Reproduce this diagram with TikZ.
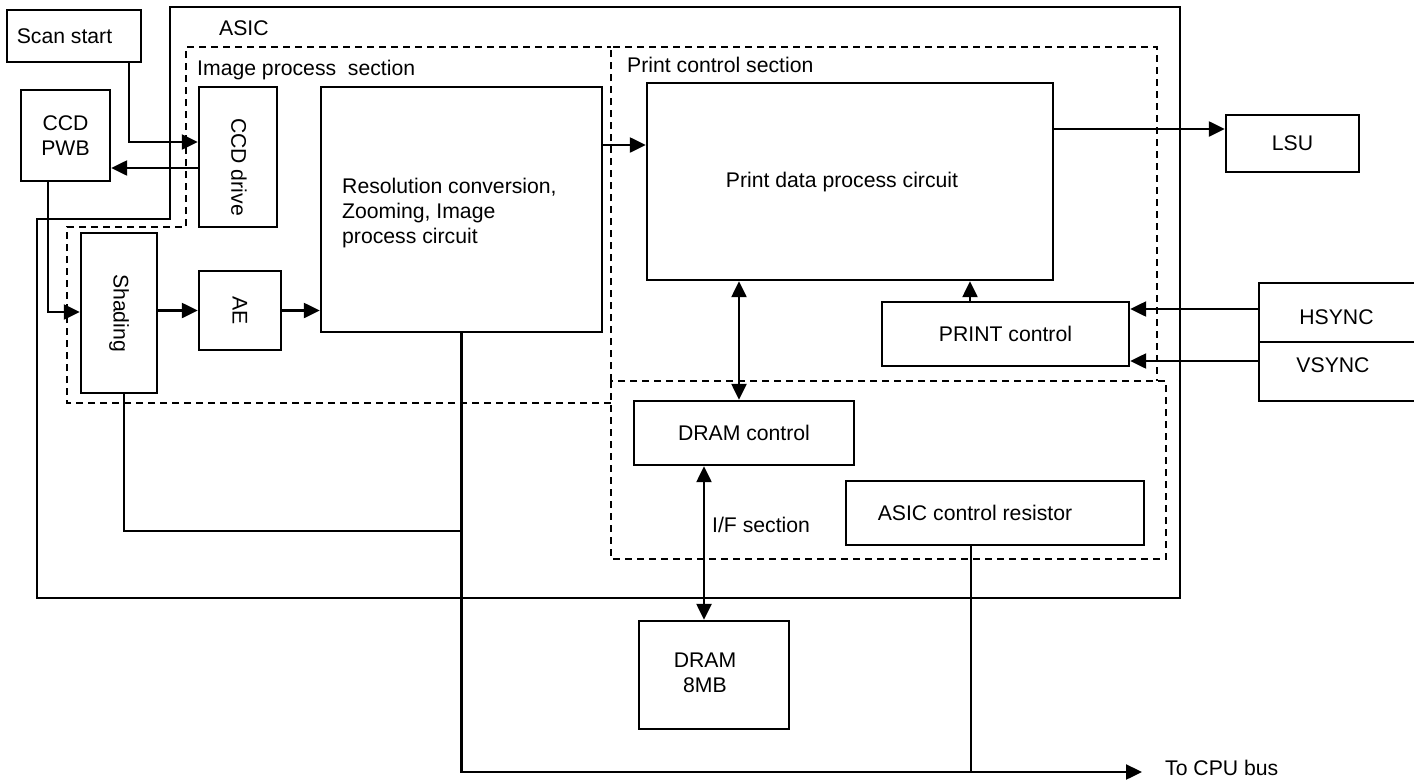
\documentclass[tikz,border=0pt]{standalone}
\usepackage{fontspec}
\setmainfont{Liberation Sans}
\usetikzlibrary{arrows.meta}
\tikzset{
  bx/.style={draw, line width=2.4pt, inner sep=0pt, align=center},
  sec/.style={draw, line width=2.4pt, dash pattern=on 7pt off 5pt},
  wire/.style={line width=2.4pt},
  arr/.style={line width=2.4pt, -{Triangle[length=16pt,width=15pt]}},
  darr/.style={line width=2.4pt, {Triangle[length=16pt,width=15pt]}-{Triangle[length=16pt,width=15pt]}},
  txt/.style={inner sep=0pt, anchor=base west},
}
\begin{document}
\begin{tikzpicture}[x=1pt,y=-1pt,font=\fontsize{21.2}{25}\selectfont]
\useasboundingbox (0,0) rectangle (1414,782);
\clip (0,0) rectangle (1414,782);
% ASIC outline
\draw[wire] (170,7) -- (1180,7) -- (1180,598) -- (37,598) -- (37,219) -- (170,219) -- cycle;
% sections
\draw[sec] (611,403) -- (67,403) -- (67,227) -- (186,227) -- (186,47) -- (611,47);
\draw[sec] (611,381) -- (611,47) -- (1157,47) -- (1157,381);
\draw[sec] (611,381) rectangle (1166,559);
% labels
\node[txt] (lasic) at (219,35) {ASIC};
\node[txt] (limg) at (197,75) {Image process\ \ section};
\node[txt] (lprint) at (627,72) {Print control section};
\node[txt] (lif) at (712,532) {I/F section};
\node[txt] (lcpu) at (1165,775) {To CPU bus};
% boxes
\node[bx, minimum width=134pt, minimum height=52pt, label={[xshift=-9.5pt]center:Scan start}] (scan) at (74,36) {};
\node[bx, minimum width=89pt, minimum height=91pt] (ccdpwb) at (65.5,135.5) {CCD\\PWB};
\node[bx, minimum width=78pt, minimum height=140pt, label={[yshift=-10pt,xshift=1pt]center:\rotatebox{-90}{CCD drive}}] (ccd) at (238,157) {};
\node[bx, minimum width=76pt, minimum height=160pt] (shading) at (119,313) {\rotatebox{-90}{Shading}};
\node[bx, minimum width=82pt, minimum height=79pt] (ae) at (240,310.5) {\rotatebox{-90}{AE}};
\node[bx, minimum width=281pt, minimum height=245pt] (res) at (461.5,209.5) {};
\node[inner sep=0pt, anchor=west, align=left] (restxt) at (342,213) {Resolution conversion,\\Zooming, Image\\process circuit};
\node[bx, minimum width=406pt, minimum height=197pt, label={[xshift=-8pt,yshift=-1pt]center:Print data process circuit}] (pdp) at (850,181.5) {};
\node[bx, minimum width=133pt, minimum height=57pt] (lsu) at (1292.5,143.5) {LSU};
\node[bx, minimum width=247pt, minimum height=64pt] (prc) at (1005.5,334) {PRINT control};
\node[bx, minimum width=161pt, minimum height=59pt, label={[xshift=-3pt,yshift=-4.5pt]center:HSYNC}] (hsync) at (1339.5,312.5) {};
\node[bx, minimum width=161pt, minimum height=59pt, label={[xshift=-6.5pt,yshift=6.5pt]center:VSYNC}] (vsync) at (1339.5,371.5) {};
\node[bx, minimum width=220pt, minimum height=64pt] (dramc) at (744,433) {DRAM control};
\node[bx, minimum width=298pt, minimum height=64pt, label={[xshift=-20pt]center:ASIC control resistor}] (asicr) at (995,513) {};
\node[bx, minimum width=150pt, minimum height=108pt, label={[xshift=-9pt]center:\begin{tabular}{@{}c@{}}DRAM\\8MB\end{tabular}}] (dram) at (714,675) {};
\coordinate (cpubus) at (1142,772);
\coordinate (j1) at (461.5,531);
% connectors
\draw[arr] ([xshift=55pt]scan.south) |- ([yshift=15pt]ccd.west);
\draw[arr] ([yshift=-11pt]ccd.west) -- ([yshift=-11pt]ccd.west -| ccdpwb.east);
\draw[arr] ([xshift=-17.5pt]ccdpwb.south) |- ([yshift=1pt]shading.west);
\draw[arr] (ae.west -| shading.east) -- (ae.west);
\draw[arr] (ae.east) -- (ae.east -| res.west);
\draw[arr] ([yshift=64.5pt]res.east) -- ([yshift=64.5pt]res.east -| pdp.west);
\draw[arr] ([yshift=14.5pt]lsu.west -| pdp.east) -- ([yshift=14.5pt]lsu.west);
\draw[arr] ([yshift=3.5pt]hsync.west) -- ([yshift=3.5pt]hsync.west -| prc.east);
\draw[arr] ([yshift=10.5pt]vsync.west) -- ([yshift=10.5pt]vsync.west -| prc.east);
\draw[arr] ([xshift=-35.5pt]prc.north) -- ([xshift=-35.5pt]prc.north |- pdp.south);
\draw[darr] ([xshift=-5pt]dramc.north |- pdp.south) -- ([xshift=-5pt]dramc.north);
\draw[darr] ([xshift=-10pt]dramc.south -| dram.north) -- ([xshift=-10pt]dram.north);
\draw[arr] (res.south) |- (cpubus);
\draw[wire] ([xshift=5pt]shading.south) |- (j1);
\draw[wire] ([xshift=-24pt]asicr.south) -- ([xshift=-24pt]asicr.south |- cpubus);
\end{tikzpicture}
\end{document}
